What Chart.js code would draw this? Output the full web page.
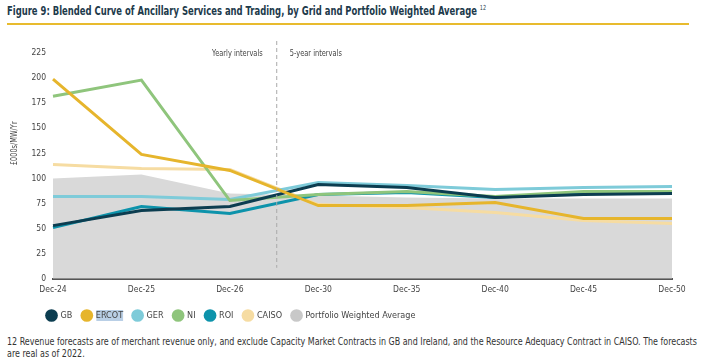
<!DOCTYPE html>
<html>
<head>
<meta charset="utf-8">
<script src="https://cdn.jsdelivr.net/npm/chart.js@4.4.1/dist/chart.umd.min.js"></script>
<style>
  body { margin: 0; width: 710px; height: 364px; background: #fff; overflow: hidden;
         font-family: 'DejaVu Sans Condensed', 'DejaVu Sans', sans-serif; }
  #title { position: absolute; left: 7px; top: 4px; font-size: 12px; font-weight: bold; color: #1d3a4b;
           white-space: nowrap; transform-origin: 0 0; }
  #title sup { font-size: 7px; font-weight: normal; }
  #rule { position: absolute; left: 7px; top: 23px; width: 682px; height: 2px; background: #e8bb2e; }
  #wrap { position: absolute; left: 0; top: 32px; width: 710px; height: 298px; }
  #note { position: absolute; left: 7px; top: 336px; font-size: 11px; line-height: 11.5px; color: #333;
          white-space: nowrap; transform-origin: 0 0; }
</style>
</head>
<body>
<div id="title">Figure 9: Blended Curve of Ancillary Services and Trading, by Grid and Portfolio Weighted Average <sup>12</sup></div>
<div id="rule"></div>
<div id="wrap"><canvas id="chart"></canvas></div>
<div id="note">12 Revenue forecasts are of merchant revenue only, and exclude Capacity Market Contracts in GB and Ireland, and the Resource Adequacy Contract in CAISO. The forecasts<br>are real as of 2022.</div>
<script>
const periods = ['Dec-24', 'Dec-25', 'Dec-26', 'Dec-30', 'Dec-35', 'Dec-40', 'Dec-45', 'Dec-50'];

const gb = [53, 68, 72, 94, 91, 81, 84, 85];
const ercot = [199, 124, 108, 73, 73, 76, 60, 60];
const ger = [82, 82, 79, 96, 93, 89, 91, 92];
const ni = [182, 198, 78, 84, 87, 82, 87, 87];
const roi = [51, 72, 65, 84, 86, 81, 86, 86];
const caiso = [114, 110, 109, 74, 71, 66, 58, 55];
const portfolioAvg = [100, 104, 85, 83, 81, 80, 80, 80];

const yTicks = [0, 25, 50, 75, 100, 125, 150, 175, 200, 225];

const font = "'DejaVu Sans Condensed', 'DejaVu Sans', sans-serif";

// squeeze the html title and footnote to the narrow widths of the original
function fitWidth(id, target) {
  const el = document.getElementById(id);
  el.style.transform = `scaleX(${target / el.scrollWidth})`;
}
fitWidth('title', 479);
fitWidth('note', 690);

function narrowText(ctx, text, x, y, align, squeeze) {
  ctx.save();
  ctx.translate(x, y);
  ctx.scale(squeeze, 1);
  ctx.textAlign = align;
  ctx.fillText(text, 0, 0);
  ctx.restore();
}

// dashed divider between yearly and 5-year intervals, captions and the y title
const chartExtras = {
  id: 'chartExtras',
  afterLayout(chart) {
    // legend starts a little right of the canvas edge
    chart.legend.left += 15;
    chart.legend.right += 15;
  },
  beforeDraw(chart) {
    // selection highlight behind ERCOT in the legend
    const box = chart.legend && chart.legend.legendHitBoxes[1];
    if (box) {
      const ctx = chart.ctx;
      ctx.save();
      ctx.fillStyle = '#b9cfe6';
      ctx.fillRect(box.left + 14, box.top - 1, box.width - 14, box.height + 2);
      ctx.restore();
    }
  },
  afterDatasetsDraw(chart) {
    const { ctx, chartArea, scales } = chart;
    const x = scales.x.getPixelForValue(2.53);
    ctx.save();
    ctx.strokeStyle = '#aaaaaa';
    ctx.lineWidth = 1;
    ctx.setLineDash([4, 3]);
    ctx.beginPath();
    ctx.moveTo(x, chartArea.top - 12);
    ctx.lineTo(x, chartArea.bottom - 11);
    ctx.stroke();
    ctx.setLineDash([]);
    ctx.fillStyle = '#444';
    ctx.font = '9px ' + font;
    ctx.textBaseline = 'middle';
    narrowText(ctx, 'Yearly intervals', x - 14, chartArea.top + 1, 'right', 0.82);
    narrowText(ctx, '5-year intervals', x + 13, chartArea.top + 1, 'left', 0.82);
    // y axis title, sits left of the ticks and above the axis middle
    ctx.translate(15, scales.y.getPixelForValue(135));
    ctx.rotate(-Math.PI / 2);
    narrowText(ctx, '£000s/MW/Yr', 0, 0, 'center', 0.82);
    ctx.restore();
  },
};

function lineSet(label, data, color, order) {
  return {
    label,
    data,
    borderColor: color,
    backgroundColor: color,
    borderWidth: 3,
    pointRadius: 0,
    tension: 0,
    fill: false,
    order,
  };
}

new Chart(document.getElementById('chart'), {
  type: 'line',
  data: {
    labels: periods,
    datasets: [
      lineSet('GB', gb, '#0c3d50', 2),
      lineSet('ERCOT', ercot, '#e6b52c', 1),
      lineSet('GER', ger, '#7ecbd9', 4),
      lineSet('NI', ni, '#8fc57c', 3),
      lineSet('ROI', roi, '#0d93ab', 3),
      lineSet('CAISO', caiso, '#f6dca2', 5),
      {
        label: 'Portfolio Weighted Average',
        data: portfolioAvg,
        borderWidth: 0,
        borderColor: '#c8c8c8',
        backgroundColor: '#d9d9d9',
        pointRadius: 0,
        fill: 'origin',
        order: 10,
      },
    ],
  },
  options: {
    responsive: true,
    maintainAspectRatio: false,
    animation: false,
    layout: { padding: { left: 22, right: 38, top: 21, bottom: 0 } },
    scales: {
      x: {
        offset: false,
        grid: { display: false, drawTicks: false },
        border: { display: true, color: '#555', width: 2 },
        ticks: { color: '#444', font: { family: font, size: 8.5 }, padding: 6, maxRotation: 0 },
      },
      y: {
        min: 0,
        max: 225,
        afterBuildTicks: (axis) => { axis.ticks = yTicks.map((v) => ({ value: v })); },
        afterFit: (axis) => { axis.width = 31; },
        grid: { display: false, drawTicks: false },
        border: { display: false },
        ticks: { color: '#444', font: { family: font, size: 8.5 }, padding: 7 },
      },
    },
    plugins: {
      legend: {
        position: 'bottom',
        align: 'start',
        labels: {
          usePointStyle: true,
          pointStyle: 'circle',
          color: '#444',
          font: { family: font, size: 9 },
          padding: 10,
          generateLabels: (chart) => chart.data.datasets.map((ds, i) => ({
            text: ds.label,
            fillStyle: ds.borderColor,
            strokeStyle: ds.borderColor,
            lineWidth: 0,
            pointStyle: 'circle',
            fontColor: '#444',
            datasetIndex: i,
          })),
        },
      },
      tooltip: { enabled: false },
    },
  },
  plugins: [chartExtras],
});
</script>
</body>
</html>
